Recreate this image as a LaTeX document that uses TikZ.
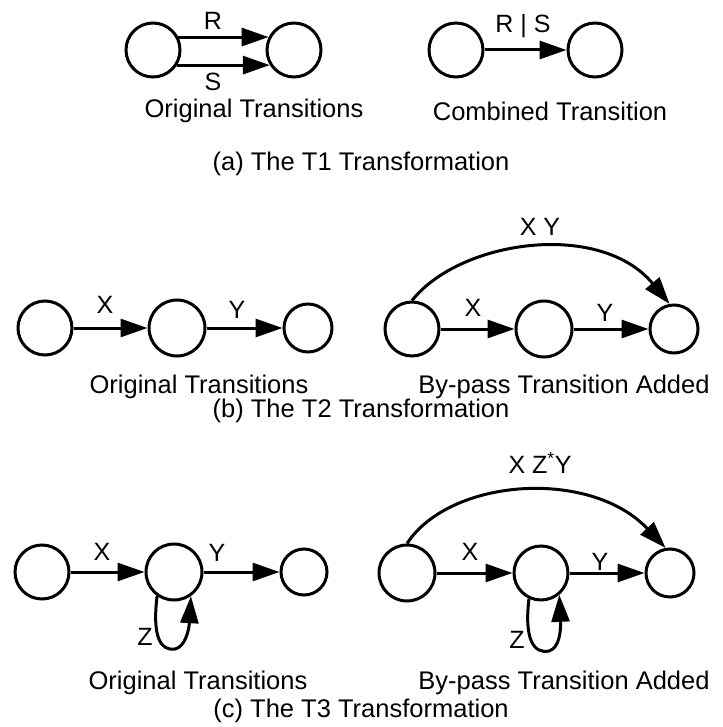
\documentclass[tikz,border=0pt]{standalone}
\usepackage{fontspec}
\setmainfont{Liberation Sans}
\usetikzlibrary{arrows.meta}
\begin{document}
\begin{tikzpicture}[x=1pt,y=-1pt,
  state/.style={circle,draw,line width=3pt,inner sep=0pt,minimum size=#1},
  state/.default=54pt,
  arr/.style={line width=3pt,-{Triangle[length=27pt,width=18pt]}},
  lab/.style={font=\fontsize{25}{30}\selectfont,inner sep=0pt},
  captext/.style={font=\fontsize{25.5}{30}\selectfont,inner sep=0pt}]
\useasboundingbox[fill=white] (0,0) rectangle (722,727);

% ---- (a) T1: parallel transitions merged ----
\node[state] (a1) at (153,50) {};
\node[state] (a2) at (294,50) {};
\draw[arr] (a1.27) -- (a2.153);
\draw[arr] (a1.-32) -- (a2.212);
\node[lab] (lR) at (213,21) {R};
\node[lab] (lS) at (213,82) {S};
\node[captext] (ta1) at (254,111) {Original Transitions};

\node[state] (a3) at (456,50) {};
\node[state] (a4) at (595,50) {};
\draw[arr] (a3) -- (a4);
\node[lab] (lRS) at (523,26) {R | S};
\node[captext] (ta2) at (550,111) {Combined Transition};
\node[captext] (ca) at (361,164) {(a) The T1 Transformation};

% ---- (b) T2: by-pass of a chain ----
\node[state] (b1) at (45,328) {};
\node[state=56pt] (b2) at (177,328) {};
\node[state=48pt] (b3) at (308,328) {};
\draw[arr] (b1) -- (b2);
\draw[arr] (b2) -- (b3);
\node[lab] (lbX) at (105,305) {X};
\node[lab] (lbY) at (237,310) {Y};

\node[state] (b4) at (412,329) {};
\node[state=56pt] (b5) at (544,329) {};
\node[state=48pt] (b6) at (674,329) {};
\draw[arr] (b4) -- (b5);
\draw[arr] (b5) -- (b6);
\draw[arr] (b4.north) .. controls (460,240) and (600,220) .. (b6.100);
\node[lab] (lbX2) at (473,308) {X};
\node[lab] (lbY2) at (605,313) {Y};
\node[lab] (lbXY) at (540,227) {X Y};

\node[captext] (tb1) at (199,387) {Original Transitions};
\node[captext] (tb2) at (564,387) {By-pass Transition Added};
\node[captext] (cb) at (361,411) {(b) The T2 Transformation};

% ---- (c) T3: chain with a self loop ----
\node[state] (c1) at (42,572) {};
\node[state=56pt] (c2) at (174,572) {};
\node[state=46pt] (c3) at (304,572) {};
\draw[arr] (c1) -- (c2);
\draw[arr] (c2) -- (c3);
\draw[arr] (c2.235) .. controls (152,638) and (161,651) .. (175,649)
  .. controls (185,647) and (189,630) .. (c2.305);
\node[lab] (lcX) at (102,552) {X};
\node[lab] (lcY) at (217,553) {Y};
\node[lab] (lcZ) at (145,637) {Z};

\node[state=56pt] (c4) at (407,573) {};
\node[state] (c5) at (541,573) {};
\node[state=48pt] (c6) at (670,573) {};
\draw[arr] (c4) -- (c5);
\draw[arr] (c5) -- (c6);
\draw[arr] (c5.245) .. controls (524,640) and (534,654) .. (549,651)
  .. controls (559,648) and (561,632) .. (c5.310);
\draw[arr] (c4.north) .. controls (450,478) and (590,468) .. (c6.100);
\node[lab] (lcX2) at (470,552) {X};
\node[lab] (lcY2) at (600,562) {Y};
\node[lab] (lcZ2) at (517,640) {Z};
\node[lab] (lcXZY) at (540,463) {X Z\textsuperscript{*}Y};

\node[captext] (tc1) at (198,683) {Original Transitions};
\node[captext] (tc2) at (564,683) {By-pass Transition Added};
\node[captext] (cc) at (361,711) {(c) The T3 Transformation};
\end{tikzpicture}
\end{document}
